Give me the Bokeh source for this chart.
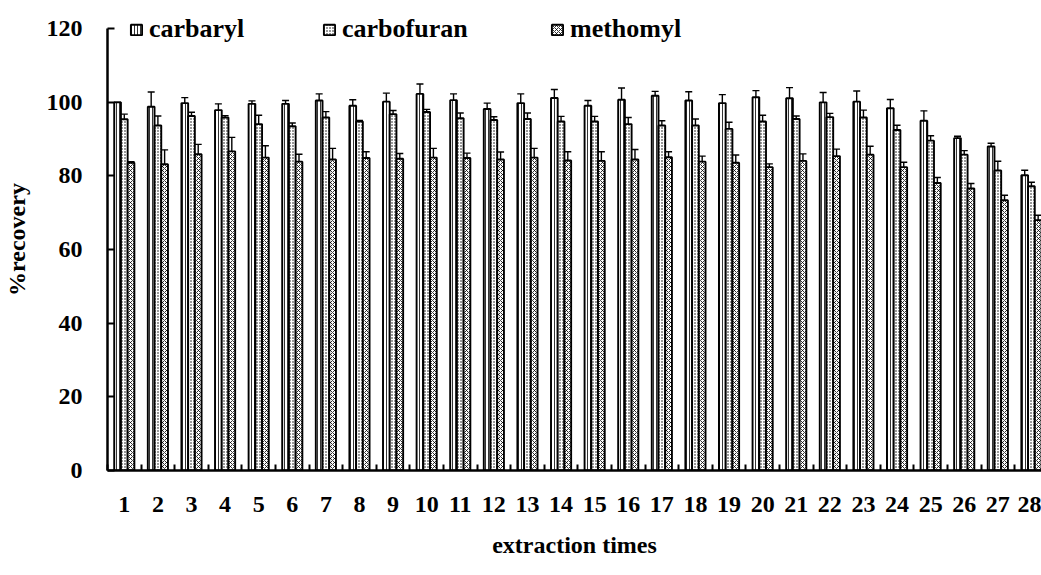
from bokeh.plotting import figure
from bokeh.models import (ColumnDataSource, Whisker, TeeHead, Legend, LegendItem,
                          FixedTicker, Range1d)
from bokeh.transform import dodge
from bokeh.embed import file_html
from bokeh.resources import INLINE

times = list(range(1, 29))
carbaryl = [100.0, 98.8, 99.8, 97.9, 99.6, 99.6, 100.5, 99.1, 100.2, 102.3, 100.6, 98.2, 99.8, 101.2,
            99.1, 100.7, 101.8, 100.5, 99.8, 101.4, 101.1, 100.0, 100.2, 98.4, 95.0, 90.3, 88.0, 80.2]
carbaryl_err = [0.0, 4.0, 1.5, 1.7, 0.8, 0.9, 1.8, 1.6, 2.3, 2.7, 1.7, 1.6, 2.5, 2.3,
                1.4, 3.2, 1.2, 2.4, 2.3, 1.8, 2.9, 2.7, 2.9, 2.4, 2.7, 0.5, 0.9, 1.35]
carbofuran = [95.4, 93.7, 96.3, 95.9, 94.1, 93.5, 95.9, 94.8, 96.8, 97.4, 95.7, 95.2, 95.5, 94.8,
              94.8, 94.1, 93.7, 93.7, 92.8, 94.8, 95.5, 96.0, 95.9, 92.5, 89.6, 85.8, 81.5, 77.2]
carbofuran_err = [1.4, 2.6, 1.0, 0.5, 2.4, 0.9, 1.6, 0.3, 1.0, 0.7, 1.4, 0.9, 1.6, 1.4,
                  1.4, 1.8, 1.3, 1.8, 1.8, 1.7, 0.8, 1.0, 2.0, 1.3, 1.35, 1.1, 2.5, 1.1]
methomyl = [83.6, 83.2, 85.9, 86.7, 85.0, 83.9, 84.5, 84.9, 84.7, 85.0, 84.9, 84.5, 85.0, 84.2,
            84.1, 84.5, 85.1, 83.9, 83.6, 82.4, 84.1, 85.4, 85.8, 82.4, 78.1, 76.6, 73.4, 68.0]
methomyl_err = [0.3, 3.9, 2.7, 3.8, 3.2, 2.0, 3.0, 1.7, 1.4, 2.5, 1.3, 2.0, 2.5, 2.4,
                2.5, 2.7, 1.5, 1.5, 2.1, 0.9, 1.9, 1.9, 2.3, 1.35, 1.5, 1.35, 1.35, 1.35]
y_ticks = [0, 20, 40, 60, 80, 100, 120]

series = [
    ("carbaryl", carbaryl, carbaryl_err, -0.2, "vertical_line", 3),
    ("carbofuran", carbofuran, carbofuran_err, 0.0, "dot", 3),
    ("methomyl", methomyl, methomyl_err, 0.2, "diagonal_cross", 4),
]

FONT = "Liberation Serif"

p = figure(width=1041, height=572, output_backend="svg", toolbar_location=None,
           x_range=Range1d(0.5, 28.3), y_range=Range1d(0, 125.5),
           min_border_left=107, min_border_right=0, min_border_top=8, min_border_bottom=102)
p.outline_line_color = None
p.xgrid.visible = False
p.ygrid.visible = False

renderers = []
for name, vals, errs, off, hatch, hscale in series:
    src = ColumnDataSource(dict(x=times, top=vals,
                                upper=[v + e for v, e in zip(vals, errs)],
                                lower=[v - e for v, e in zip(vals, errs)]))
    r = p.vbar(x=dodge("x", off, range=p.x_range), top="top", width=0.2, source=src,
               fill_color="white", line_color="black", line_width=1.9,
               hatch_pattern=hatch, hatch_color="black", hatch_scale=hscale, hatch_weight=0.8)
    renderers.append((name, r))
    w = Whisker(base=dodge("x", off, range=p.x_range), upper="upper", lower="lower", source=src,
                line_color="black", line_width=1.4,
                upper_head=TeeHead(size=7, line_width=1.4, line_color="black"),
                lower_head=TeeHead(size=7, line_width=1.4, line_color="black"))
    p.add_layout(w)

legend_x = [22, 215, 443]
for (name, r), lx in zip(renderers, legend_x):
    lg = Legend(items=[LegendItem(label=name, renderers=[r])], location=(lx, 426),
                orientation="horizontal", background_fill_alpha=0, border_line_alpha=0,
                padding=0, margin=0, glyph_width=14, glyph_height=13, label_standoff=6,
                label_height=26, label_text_color="black",
                label_text_font=FONT, label_text_font_style="bold", label_text_font_size="26px")
    p.add_layout(lg)

# axes
p.xaxis.ticker = FixedTicker(ticks=times, minor_ticks=[t - 0.5 for t in times] + [28.5])
p.yaxis.ticker = FixedTicker(ticks=y_ticks)
p.yaxis.bounds = (0, 120)
for ax in (p.xaxis, p.yaxis):
    ax.axis_line_width = 2.5
    ax.axis_line_color = "black"
    ax.major_label_text_font = FONT
    ax.major_label_text_font_style = "bold"
    ax.major_label_text_font_size = "24px"
    ax.major_label_text_color = "black"
    ax.axis_label_text_font = FONT
    ax.axis_label_text_font_style = "bold"
    ax.axis_label_text_font_size = "24px"
    ax.axis_label_text_color = "black"

p.xaxis.major_tick_in = 0
p.xaxis.major_tick_out = 0
p.xaxis.minor_tick_in = 6
p.xaxis.minor_tick_out = 0
p.xaxis.minor_tick_line_width = 2
p.xaxis.minor_tick_line_color = "black"
p.xaxis.major_label_standoff = 26
p.xaxis.axis_label = "extraction times"
p.xaxis.axis_label_standoff = 17

p.yaxis.major_tick_in = 7
p.yaxis.major_tick_out = 0
p.yaxis.major_tick_line_width = 2
p.yaxis.major_tick_line_color = "black"
p.yaxis.minor_tick_line_color = None
p.yaxis.major_label_standoff = 25
p.yaxis.axis_label = "%recovery"
p.yaxis.axis_label_standoff = 14

open("out.html", "w").write(file_html(p, INLINE))
